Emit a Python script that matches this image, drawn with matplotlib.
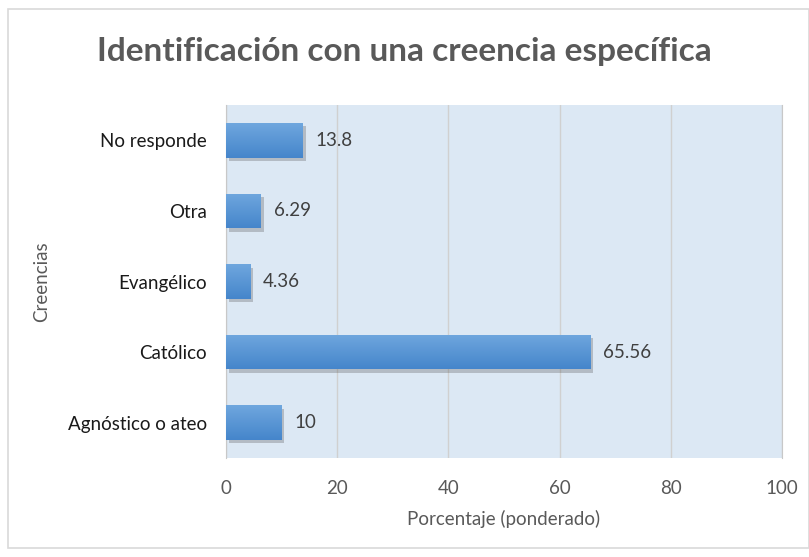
import numpy as np
import matplotlib.pyplot as plt
import matplotlib.patheffects as pe
from matplotlib.patches import Rectangle
from matplotlib.colors import LinearSegmentedColormap

# datos
categorias = ['Agnóstico o ateo', 'Católico', 'Evangélico', 'Otra', 'No responde']
valores = [10, 65.56, 4.36, 6.29, 13.8]
etiquetas = ['10', '65.56', '4.36', '6.29', '13.8']
ticks_x = [0, 20, 40, 60, 80, 100]

plt.rcParams['font.family'] = ['Lato', 'DejaVu Sans']

fig = plt.figure(figsize=(8.09, 5.57), dpi=100)
# marco exterior
fig.patches.append(Rectangle((8/809, 9/557), 1 - 8/809, 1 - 18/557, transform=fig.transFigure,
                             fill=False, edgecolor='#d9d9d9', linewidth=1.2))

ax = fig.add_axes([226/809, 1 - 458/557, (782-226)/809, (458-105)/557])
ax.set_facecolor('#dce8f4')

y = np.arange(len(categorias))
barras = ax.barh(y, valores, height=0.49, color='#5b9bd5', zorder=3,
                 path_effects=[pe.SimplePatchShadow(offset=(2, -2.5), shadow_rgbFace='#555555', alpha=0.3),
                               pe.Normal()])

# degradado en cada barra (claro arriba, oscuro abajo)
grad = np.linspace(0, 1, 100).reshape(-1, 1)
cmap = LinearSegmentedColormap.from_list('azul', ['#6fa7de', '#4585cb'])
for b in barras:
    x0, y0 = b.get_x(), b.get_y()
    w, h = b.get_width(), b.get_height()
    im = ax.imshow(grad, extent=[x0, x0 + w, y0, y0 + h], origin='upper',
                   cmap=cmap, aspect='auto', zorder=4)
    im.set_clip_path(b)

for yi, v, t in zip(y, valores, etiquetas):
    ax.text(v + 2.3, yi, t, va='center', ha='left', fontsize=13.5, color='#404040', zorder=5)

ax.set_xlim(0, 100)
ax.set_ylim(-0.5, len(categorias) - 0.5)
ax.set_xticks(ticks_x)
ax.set_yticks(y)
ax.set_yticklabels(categorias)
ax.tick_params(axis='x', length=0, pad=16, labelsize=13.5, labelcolor='#595959')
ax.tick_params(axis='y', length=0, pad=13.5, labelsize=13.5, labelcolor='#1a1a1a')
ax.grid(axis='x', color='#d0d0d0', linewidth=1, zorder=0)
for s in ['top', 'bottom']:
    ax.spines[s].set_visible(False)
ax.spines['left'].set_color('#c8c8c8')
ax.spines['right'].set_color('#c8c8c8')

ax.set_xlabel('Porcentaje (ponderado)', fontsize=13.5, color='#595959', labelpad=9)
ax.set_ylabel('Creencias', fontsize=13.5, color='#595959')
ax.yaxis.set_label_coords(-0.317, 0.5)

fig.text(0.5, 1 - 52/557, 'Identificación con una creencia específica', ha='center', va='center',
         fontsize=24, fontweight='bold', color='#595959')

plt.savefig('out.png', dpi=100)
